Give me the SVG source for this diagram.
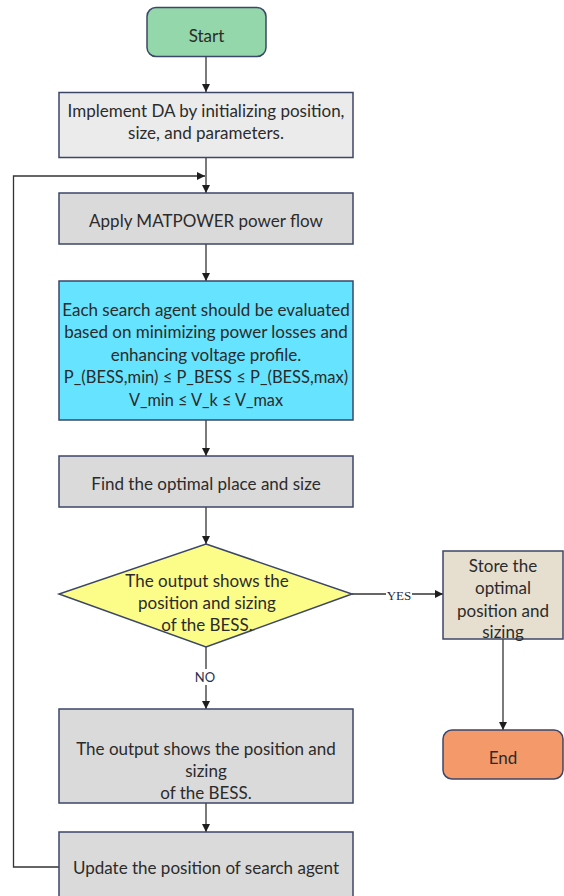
<svg xmlns="http://www.w3.org/2000/svg" width="564" height="896" viewBox="0 0 564 896">
<defs>
<marker id="ah" viewBox="0 0 10 10" refX="10" refY="5" markerWidth="8" markerHeight="8" markerUnits="userSpaceOnUse" orient="auto">
<path d="M0,0 L10,5 L0,10 z" fill="#1e1e1e"/>
</marker>
<style>
.n{stroke:#3c4668;stroke-width:1.5}
.t{font-family:Lato,"Open Sans",sans-serif;font-size:17px;fill:#2b2b2b;text-anchor:middle;dominant-baseline:central}
.c{fill:none;stroke:#333;stroke-width:1.3}
.lbl{fill:#fff;stroke:none}
</style>
</defs>
<rect width="564" height="896" fill="#fff"/>
<g id="connectors">
<line class="c" x1="206" y1="57" x2="206" y2="92" marker-end="url(#ah)"/>
<line class="c" x1="206" y1="158" x2="206" y2="193" marker-end="url(#ah)"/>
<polyline class="c" points="59,867 13.5,867 13.5,176 205,176" marker-end="url(#ah)"/>
<line class="c" x1="206" y1="244" x2="206" y2="281" marker-end="url(#ah)"/>
<line class="c" x1="206" y1="420" x2="206" y2="456" marker-end="url(#ah)"/>
<line class="c" x1="206" y1="507" x2="206" y2="544" marker-end="url(#ah)"/>
<line class="c" x1="352" y1="594" x2="443" y2="594" marker-end="url(#ah)"/>
<rect class="lbl" x="386" y="587" width="26" height="14"/>
<text x="399" y="595" style="font-family:'Liberation Serif',serif;font-size:13px;fill:#1f2a44;text-anchor:middle;dominant-baseline:central">YES</text>
<line class="c" x1="206" y1="647" x2="206" y2="709" marker-end="url(#ah)"/>
<rect class="lbl" x="194" y="669" width="24" height="16"/>
<text x="205" y="677" style="font-family:Lato,sans-serif;font-size:13px;fill:#2a3050;text-anchor:middle;dominant-baseline:central">NO</text>
<line class="c" x1="503" y1="639" x2="503" y2="730" marker-end="url(#ah)"/>
<line class="c" x1="206" y1="803" x2="206" y2="832" marker-end="url(#ah)"/>
</g>
<g id="start">
<rect class="n" x="147" y="7.5" width="119" height="49" rx="9" fill="#93d7aa"/>
<text class="t" x="206.5" y="35">Start</text>
</g>
<g id="implement">
<rect class="n" x="59" y="92.5" width="294" height="65" fill="#ebebeb"/>
<text class="t" x="206" y="110">Implement DA by initializing position,</text>
<text class="t" x="206" y="132.5">size, and parameters.</text>
</g>
<g id="apply">
<rect class="n" x="59" y="193" width="294" height="51" fill="#dadada"/>
<text class="t" x="206" y="220.5">Apply MATPOWER power flow</text>
</g>
<g id="evaluate">
<rect class="n" x="59" y="281" width="294" height="139" fill="#66e3fe"/>
<text class="t" x="206" y="309">Each search agent should be evaluated</text>
<text class="t" x="206" y="331.5">based on minimizing power losses and</text>
<text class="t" x="206" y="354">enhancing voltage profile.</text>
<text class="t" x="206" y="376.5" style="font-size:16.5px">P_(BESS,min) ≤ P_BESS ≤ P_(BESS,max)</text>
<text class="t" x="206" y="399" style="font-size:16.3px">V_min ≤ V_k ≤ V_max</text>
</g>
<g id="find">
<rect class="n" x="59" y="456" width="294" height="51" fill="#dadada"/>
<text class="t" x="206" y="483">Find the optimal place and size</text>
</g>
<g id="decision">
<polygon class="n" points="206,544 352,594 206,647 59,594" fill="#fcfc88"/>
<text class="t" x="207" y="580">The output shows the</text>
<text class="t" x="207" y="602">position and sizing</text>
<text class="t" x="207" y="624">of the BESS.</text>
</g>
<g id="store">
<rect class="n" x="443" y="551" width="120" height="88" fill="#e6dfd0"/>
<text class="t" x="503" y="565">Store the</text>
<text class="t" x="503" y="587.5">optimal</text>
<text class="t" x="503" y="610">position and</text>
<text class="t" x="503" y="631">sizing</text>
</g>
<g id="end">
<rect class="n" x="443" y="730" width="120" height="49" rx="9" fill="#f4996a"/>
<text class="t" x="503" y="757">End</text>
</g>
<g id="output">
<rect class="n" x="59" y="709" width="294" height="94" fill="#dadada"/>
<text class="t" x="206" y="748">The output shows the position and</text>
<text class="t" x="206" y="770.5">sizing</text>
<text class="t" x="206" y="792.5">of the BESS.</text>
</g>
<g id="update">
<rect class="n" x="59" y="832" width="294" height="70" fill="#dadada"/>
<text class="t" x="206" y="867">Update the position of search agent</text>
</g>
</svg>
